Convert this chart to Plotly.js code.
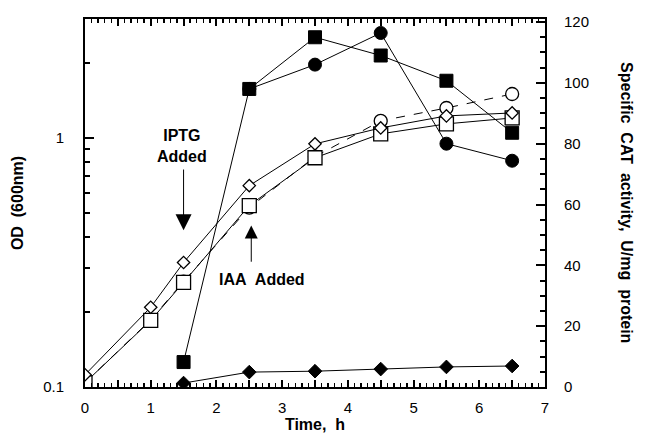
<!DOCTYPE html>
<html><head><meta charset="utf-8">
<script src="https://cdn.plot.ly/plotly-3.0.1.min.js"></script>
<style>html,body{margin:0;padding:0;background:#fff}#chart{width:649px;height:435px}</style>
</head><body><div id="chart"></div>
<script>
// OD (600nm), left log axis - open symbols
const timeOD = [0, 1, 1.5, 2.5, 3.5, 4.5, 5.5, 6.5];
const odOpenCircle  = [0.104, 0.186, 0.265, 0.525, 0.84, 1.17, 1.318, 1.50];
const odOpenSquare  = [0.104, 0.185, 0.263, 0.535, 0.832, 1.038, 1.138, 1.202];
const odOpenDiamond = [0.112, 0.209, 0.316, 0.643, 0.946, 1.096, 1.225, 1.259];
// Specific CAT activity (U/mg protein), right axis - filled symbols
const timeCatSquare = [1.5, 2.5, 3.5, 4.5, 5.5, 6.5];
const catFilledSquare = [8.2, 98, 115, 109, 100.7, 83.6];
const timeCatCircle = [2.5, 3.5, 4.5, 5.5, 6.5];
const catFilledCircle = [98, 106, 116.4, 80, 74.4];
const timeCatDiamond = [1.5, 2.5, 3.5, 4.5, 5.5, 6.5];
const catFilledDiamond = [1.3, 4.9, 5.2, 5.9, 6.6, 6.9];
// tick labels
const xTickVals = [0,0.5,1,1.5,2,2.5,3,3.5,4,4.5,5,5.5,6,6.5,7];
const xTickText = ['0','','1','','2','','3','','4','','5','','6','','7'];
const yTickVals = [0.1, 1];
const yTickText = ['0.1', '1'];
const yMinorVals = [0.2,0.3,0.4,0.5,0.6,0.7,0.8,0.9,2,3];

const openMarker = (sym, size) => ({symbol: sym, size: size, color: '#fff', line: {color: '#000', width: 1.3}});
const filledMarker = (sym, size) => ({symbol: sym, size: size, color: '#000', line: {color: '#000', width: 1}});

const traces = [
  {x: timeOD, y: odOpenCircle, mode: 'lines+markers', yaxis: 'y', line: {color: '#000', width: 1, dash: 'dash'}, marker: openMarker('circle', 13), name: 'OD open circle'},
  {x: timeOD, y: odOpenSquare, mode: 'lines+markers', yaxis: 'y', line: {color: '#000', width: 1}, marker: openMarker('square', 14), name: 'OD open square'},
  {x: timeOD, y: odOpenDiamond, mode: 'lines+markers', yaxis: 'y', line: {color: '#000', width: 1}, marker: openMarker('diamond', 9.5), name: 'OD open diamond'},
  {x: timeCatCircle, y: catFilledCircle, mode: 'lines+markers', yaxis: 'y2', line: {color: '#000', width: 1}, marker: filledMarker('circle', 13), name: 'CAT filled circle'},
  {x: timeCatSquare, y: catFilledSquare, mode: 'lines+markers', yaxis: 'y2', line: {color: '#000', width: 1}, marker: filledMarker('square', 13), name: 'CAT filled square'},
  {x: timeCatDiamond, y: catFilledDiamond, mode: 'lines+markers', yaxis: 'y2', line: {color: '#000', width: 1}, marker: filledMarker('diamond', 10.5), name: 'CAT filled diamond'}
];

const bold16 = {family: 'Liberation Sans, Arial, sans-serif', size: 16, color: '#000', weight: 'bold'};

const layout = {
  width: 649, height: 435,
  margin: {l: 85, r: 104, t: 19, b: 48},
  paper_bgcolor: '#fff', plot_bgcolor: '#fff',
  showlegend: false,
  font: {family: 'Liberation Sans, Arial, sans-serif', size: 15, color: '#000'},
  xaxis: {
    range: [0, 7], tickmode: 'array', tickvals: xTickVals, ticktext: xTickText,
    ticks: 'inside', ticklen: 7, tickwidth: 2, tickcolor: '#000',
    minor: {tick0: 0, dtick: 0.1, ticks: 'inside', ticklen: 4, tickwidth: 1.5, tickcolor: '#000'},
    showline: true, linewidth: 2, linecolor: '#000', mirror: 'ticks',
    showgrid: false, zeroline: false, ticklabelstandoff: 6,
    title: {text: 'Time,\u00a0 h', font: bold16, standoff: 2}
  },
  yaxis: {
    type: 'log', range: [-1, Math.log10(3)], tickmode: 'array', tickvals: yTickVals, ticktext: yTickText,
    ticks: 'inside', ticklen: 9, tickwidth: 2, tickcolor: '#000',
    minor: {tickmode: 'array', tickvals: yMinorVals, ticks: 'inside', ticklen: 5, tickwidth: 2, tickcolor: '#000'},
    showline: true, linewidth: 2, linecolor: '#000', mirror: false,
    showgrid: false, zeroline: false, ticklabelstandoff: 16,
    title: {text: 'OD\u00a0 (600nm)', font: bold16, standoff: 16}
  },
  yaxis2: {
    overlaying: 'y', side: 'right', range: [0, 121], tick0: 0, dtick: 20,
    ticks: 'inside', ticklen: 9, tickwidth: 2, tickcolor: '#000',
    minor: {tick0: 0, dtick: 5, ticks: 'inside', ticklen: 5, tickwidth: 2, tickcolor: '#000'},
    showline: true, linewidth: 2, linecolor: '#000',
    showgrid: false, zeroline: false, ticklabelstandoff: 14
  },
  annotations: [
    {xref: 'paper', yref: 'paper', x: 1.178, y: 0.5, xanchor: 'center', yanchor: 'middle', textangle: 90,
     text: 'Specific\u00a0 CAT\u00a0 activity,\u00a0 U/mg\u00a0 protein', showarrow: false, font: bold16},
    {xref: 'x', yref: 'y2', x: 1.48, y: 79.3, xanchor: 'center', yanchor: 'middle', align: 'center',
     text: 'IPTG<br>Added', showarrow: false, font: bold16},
    {xref: 'x', yref: 'y2', x: 1.5, y: 51.5, axref: 'x', ayref: 'y2', ax: 1.5, ay: 72, text: '',
     showarrow: true, arrowhead: 2, arrowsize: 3.2, arrowwidth: 1, arrowcolor: '#000'},
    {xref: 'paper', yref: 'y2', x: 0.385, y: 35.4, xanchor: 'center', yanchor: 'middle',
     text: 'IAA\u00a0 Added', showarrow: false, font: bold16},
    {xref: 'x', yref: 'y2', x: 2.53, y: 53.1, axref: 'x', ayref: 'y2', ax: 2.53, ay: 40.7, text: '',
     showarrow: true, arrowhead: 2, arrowsize: 2.6, arrowwidth: 1, arrowcolor: '#000'}
  ]
};

Plotly.newPlot('chart', traces, layout, {displayModeBar: false, staticPlot: true});
</script>
</body></html>
